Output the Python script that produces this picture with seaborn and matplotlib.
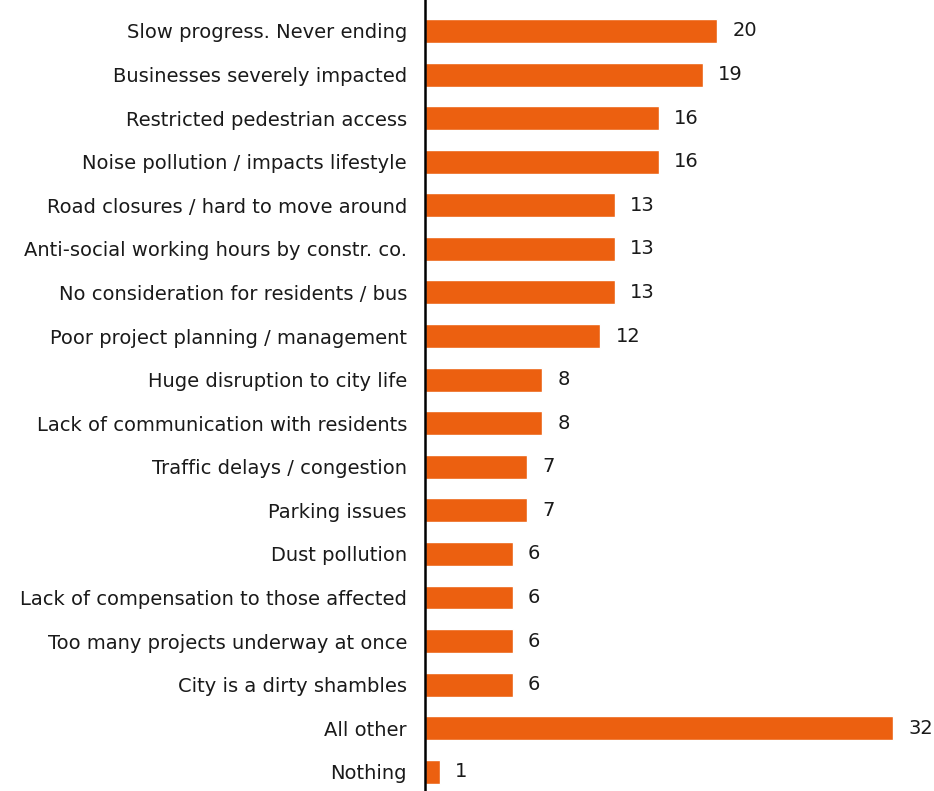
import seaborn as sns
import matplotlib.pyplot as plt
import pandas as pd

# complaints about the construction works, counts per theme
themes = [
    'Slow progress. Never ending',
    'Businesses severely impacted',
    'Restricted pedestrian access',
    'Noise pollution / impacts lifestyle',
    'Road closures / hard to move around',
    'Anti-social working hours by constr. co.',
    'No consideration for residents / bus',
    'Poor project planning / management',
    'Huge disruption to city life',
    'Lack of communication with residents',
    'Traffic delays / congestion',
    'Parking issues',
    'Dust pollution',
    'Lack of compensation to those affected',
    'Too many projects underway at once',
    'City is a dirty shambles',
    'All other',
    'Nothing',
]
counts = [20, 19, 16, 16, 13, 13, 13, 12, 8, 8, 7, 7, 6, 6, 6, 6, 32, 1]

df = pd.DataFrame({'theme': themes, 'count': counts})

sns.set_style('white')
plt.rcParams['font.family'] = ['DejaVu Sans']

fig = plt.figure(figsize=(9.34, 7.91), dpi=100)
ax = fig.add_axes([0.455, 0.0, 0.54, 1.0])

sns.barplot(data=df, x='count', y='theme', color='#EC6010', width=0.55,
            saturation=1, ax=ax)

ax.bar_label(ax.containers[0], padding=11, fontsize=14, color='#1a1a1a')

ax.set_xlim(0, 34.5)
ax.set_ylim(17.44, -0.71)
ax.set_xlabel('')
ax.set_ylabel('')
ax.set_xticks([])
ax.tick_params(axis='y', length=0, pad=13, labelsize=14, labelcolor='#1a1a1a')

sns.despine(ax=ax, top=True, right=True, bottom=True)
ax.spines['left'].set_color('black')
ax.spines['left'].set_linewidth(1.8)

plt.savefig('out.png', dpi=100)
plt.close()
